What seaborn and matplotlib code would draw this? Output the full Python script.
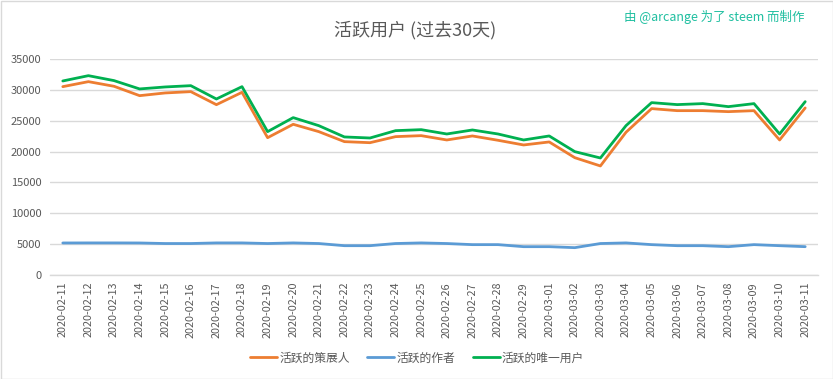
import matplotlib
matplotlib.use("Agg")
import matplotlib.pyplot as plt
import seaborn as sns
import pandas as pd

dates = ["2020-02-11", "2020-02-12", "2020-02-13", "2020-02-14", "2020-02-15",
         "2020-02-16", "2020-02-17", "2020-02-18", "2020-02-19", "2020-02-20",
         "2020-02-21", "2020-02-22", "2020-02-23", "2020-02-24", "2020-02-25",
         "2020-02-26", "2020-02-27", "2020-02-28", "2020-02-29", "2020-03-01",
         "2020-03-02", "2020-03-03", "2020-03-04", "2020-03-05", "2020-03-06",
         "2020-03-07", "2020-03-08", "2020-03-09", "2020-03-10", "2020-03-11"]

curators = [30520, 31330, 30580, 29060, 29500, 29710, 27600, 29600, 22250, 24420,
            23230, 21610, 21440, 22420, 22580, 21880, 22530, 21830, 21070, 21560,
            19010, 17670, 23130, 26960, 26630, 26630, 26470, 26630, 21880, 27070]

authors = [5190, 5200, 5200, 5190, 5100, 5100, 5200, 5200, 5100, 5200,
           5100, 4750, 4750, 5100, 5200, 5100, 4920, 4920, 4590, 4590,
           4430, 5100, 5200, 4920, 4750, 4750, 4590, 4920, 4750, 4590]

unique_users = [31440, 32300, 31500, 30150, 30470, 30680, 28520, 30520, 23230, 25500,
                24200, 22370, 22200, 23390, 23550, 22850, 23500, 22850, 21880, 22530,
                19990, 18960, 24200, 27930, 27610, 27770, 27280, 27770, 22850, 28090]

series_names = ["活跃的策展人", "活跃的作者", "活跃的唯一用户"]
colors = ["#ED7D31", "#5B9BD5", "#00B050"]

df = pd.concat([
    pd.DataFrame({"date": dates, "value": curators, "series": series_names[0]}),
    pd.DataFrame({"date": dates, "value": authors, "series": series_names[1]}),
    pd.DataFrame({"date": dates, "value": unique_users, "series": series_names[2]}),
], ignore_index=True)

sns.set_theme(style="white")
plt.rcParams["font.family"] = ["Noto Sans CJK SC", "DejaVu Sans"]

fig = plt.figure(figsize=(8.33, 3.79), dpi=100)
ax = fig.add_axes([50 / 833, 1 - 275 / 379, 768 / 833, 216 / 379])

sns.lineplot(data=df, x="date", y="value", hue="series", palette=colors,
             hue_order=series_names, linewidth=2, ax=ax, legend=True, sort=False)

ax.set_xlim(-0.5, len(dates) - 0.5)
ax.set_ylim(0, 35000)
ax.set_yticks(range(0, 35001, 5000))
ax.yaxis.grid(True, color="#D9D9D9", linewidth=1)
ax.set_axisbelow(True)
for s in ["top", "right", "left"]:
    ax.spines[s].set_visible(False)
ax.spines["bottom"].set_color("#D9D9D9")
ax.spines["bottom"].set_linewidth(1)
ax.set_xlabel("")
ax.set_ylabel("")
ax.tick_params(axis="x", labelrotation=90, labelsize=7.8, colors="#595959", length=0, pad=5)
ax.tick_params(axis="y", labelsize=8, colors="#595959", length=0, pad=6)

handles, labels = ax.get_legend_handles_labels()
ax.get_legend().remove()
fig.legend(handles, labels, loc="center", bbox_to_anchor=(417 / 833, 1 - 358 / 379), ncol=3,
           frameon=False, fontsize=8.5, handlelength=2.3, handletextpad=0.15,
           columnspacing=1.5, labelcolor="#595959")

fig.text(415 / 833, 1 - 30 / 379, "活跃用户 (过去30天)", ha="center", va="center",
         fontsize=13, color="#595959")
fig.text(805 / 833, 1 - 17 / 379, "由 @arcange 为了 steem 而制作", ha="right", va="center",
         fontsize=9, color="#1FBFA0")

border = plt.Rectangle((0.5 / 833, 0.5 / 379), 1 - 1 / 833, 1 - 1 / 379,
                       transform=fig.transFigure, fill=False, edgecolor="#D9D9D9",
                       linewidth=1)
fig.patches.append(border)

fig.savefig("out.png", dpi=100)
